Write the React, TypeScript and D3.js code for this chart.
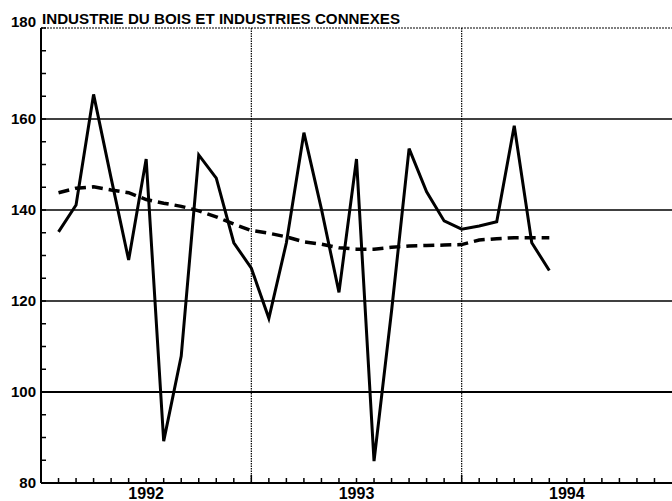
import React from "react";
import * as d3 from "d3";

// monthly values, plotted at the end of each month
const months = [
  "1992-01", "1992-02", "1992-03", "1992-04", "1992-05", "1992-06",
  "1992-07", "1992-08", "1992-09", "1992-10", "1992-11", "1992-12",
  "1993-01", "1993-02", "1993-03", "1993-04", "1993-05", "1993-06",
  "1993-07", "1993-08", "1993-09", "1993-10", "1993-11", "1993-12",
  "1994-01", "1994-02", "1994-03", "1994-04", "1994-05",
];
const raw = [
  135.2, 141.1, 165.4, 147.0, 129.0, 151.2, 89.2, 107.9, 152.1, 147.0,
  132.8, 127.2, 116.2, 132.8, 157.0, 140.2, 121.9, 151.2, 84.8, 117.8,
  153.5, 144.0, 137.6, 135.8, 136.5, 137.4, 158.5, 132.8, 126.7,
];
const trend = [
  143.8, 144.8, 145.1, 144.4, 143.8, 142.3, 141.5, 140.8, 139.8, 138.5,
  136.9, 135.5, 134.9, 134.1, 133.0, 132.5, 131.7, 131.4, 131.4, 131.8,
  132.1, 132.2, 132.3, 132.4, 133.4, 133.7, 133.9, 133.9, 133.9,
];
const years = ["1992", "1993", "1994"];
const yTicks = [80, 100, 120, 140, 160, 180];
const title = "INDUSTRIE DU BOIS ET INDUSTRIES CONNEXES";

const W = 672;
const H = 501;
const left = 41;
const top = 28;
const bottom = 483;
const right = 672;

function monthIndex(m: string) {
  const [y, mo] = m.split("-").map(Number);
  return (y - 1992) * 12 + mo;
}

export default function App() {
  const x = d3.scaleLinear().domain([0, years.length * 12]).range([left, right]);
  const y = d3.scaleLinear().domain([80, 180]).range([bottom, top]);

  const line = d3
    .line<number>()
    .x((_, i) => x(monthIndex(months[i])))
    .y((d) => y(d));

  const minorY = d3.range(80, 181, 5);
  const monthTicks = d3.range(1, years.length * 12);

  return (
    <svg
      width={W}
      height={H}
      style={{ position: "absolute", left: 0, top: 0, background: "#fff" }}
      fontFamily="'Liberation Sans', Arial, sans-serif"
      fontWeight="bold"
    >
      {/* horizontal grid */}
      {yTicks.filter((t) => t > 80).map((t) => (
        <line
          key={t}
          x1={left}
          x2={right}
          y1={y(t)}
          y2={y(t)}
          stroke="#000"
          strokeWidth={t === 180 ? 1.2 : t === 100 ? 2 : 1.5}
          strokeDasharray={t === 180 ? "2,1" : undefined}
        />
      ))}
      {/* year separators */}
      {years.slice(1).map((yr, i) => (
        <line
          key={yr}
          x1={x((i + 1) * 12)}
          x2={x((i + 1) * 12)}
          y1={top}
          y2={bottom}
          stroke="#000"
          strokeWidth={1.2}
          strokeDasharray="1.5,1"
        />
      ))}

      {/* axes */}
      <line x1={left} x2={left} y1={top} y2={bottom} stroke="#000" strokeWidth={2} />
      <line x1={left} x2={right} y1={bottom} y2={bottom} stroke="#000" strokeWidth={2} />
      {minorY.map((t) => (
        <line key={t} x1={left} x2={left + 5} y1={y(t)} y2={y(t)} stroke="#000" strokeWidth={1.5} />
      ))}
      {monthTicks.map((m) => (
        <line
          key={m}
          x1={x(m)}
          x2={x(m)}
          y1={bottom}
          y2={bottom - (m % 12 === 0 ? 8 : 5)}
          stroke="#000"
          strokeWidth={1.5}
        />
      ))}

      {/* tick labels */}
      {yTicks.map((t) => (
        <text
          key={t}
          x={36}
          y={t === 180 ? y(t) - 1 : y(t) + 5}
          textAnchor="end"
          fontSize={15}
        >
          {t}
        </text>
      ))}
      {years.map((yr, i) => (
        <text key={yr} x={x(i * 12 + 6)} y={499} textAnchor="middle" fontSize={16}>
          {yr}
        </text>
      ))}

      <text x={42} y={24} fontSize={14} textLength={358} lengthAdjust="spacingAndGlyphs">
        {title}
      </text>

      {/* series */}
      <path d={line(trend) ?? ""} fill="none" stroke="#000" strokeWidth={3.5} strokeDasharray="11,6" />
      <path d={line(raw) ?? ""} fill="none" stroke="#000" strokeWidth={3} strokeLinejoin="miter" />
    </svg>
  );
}
